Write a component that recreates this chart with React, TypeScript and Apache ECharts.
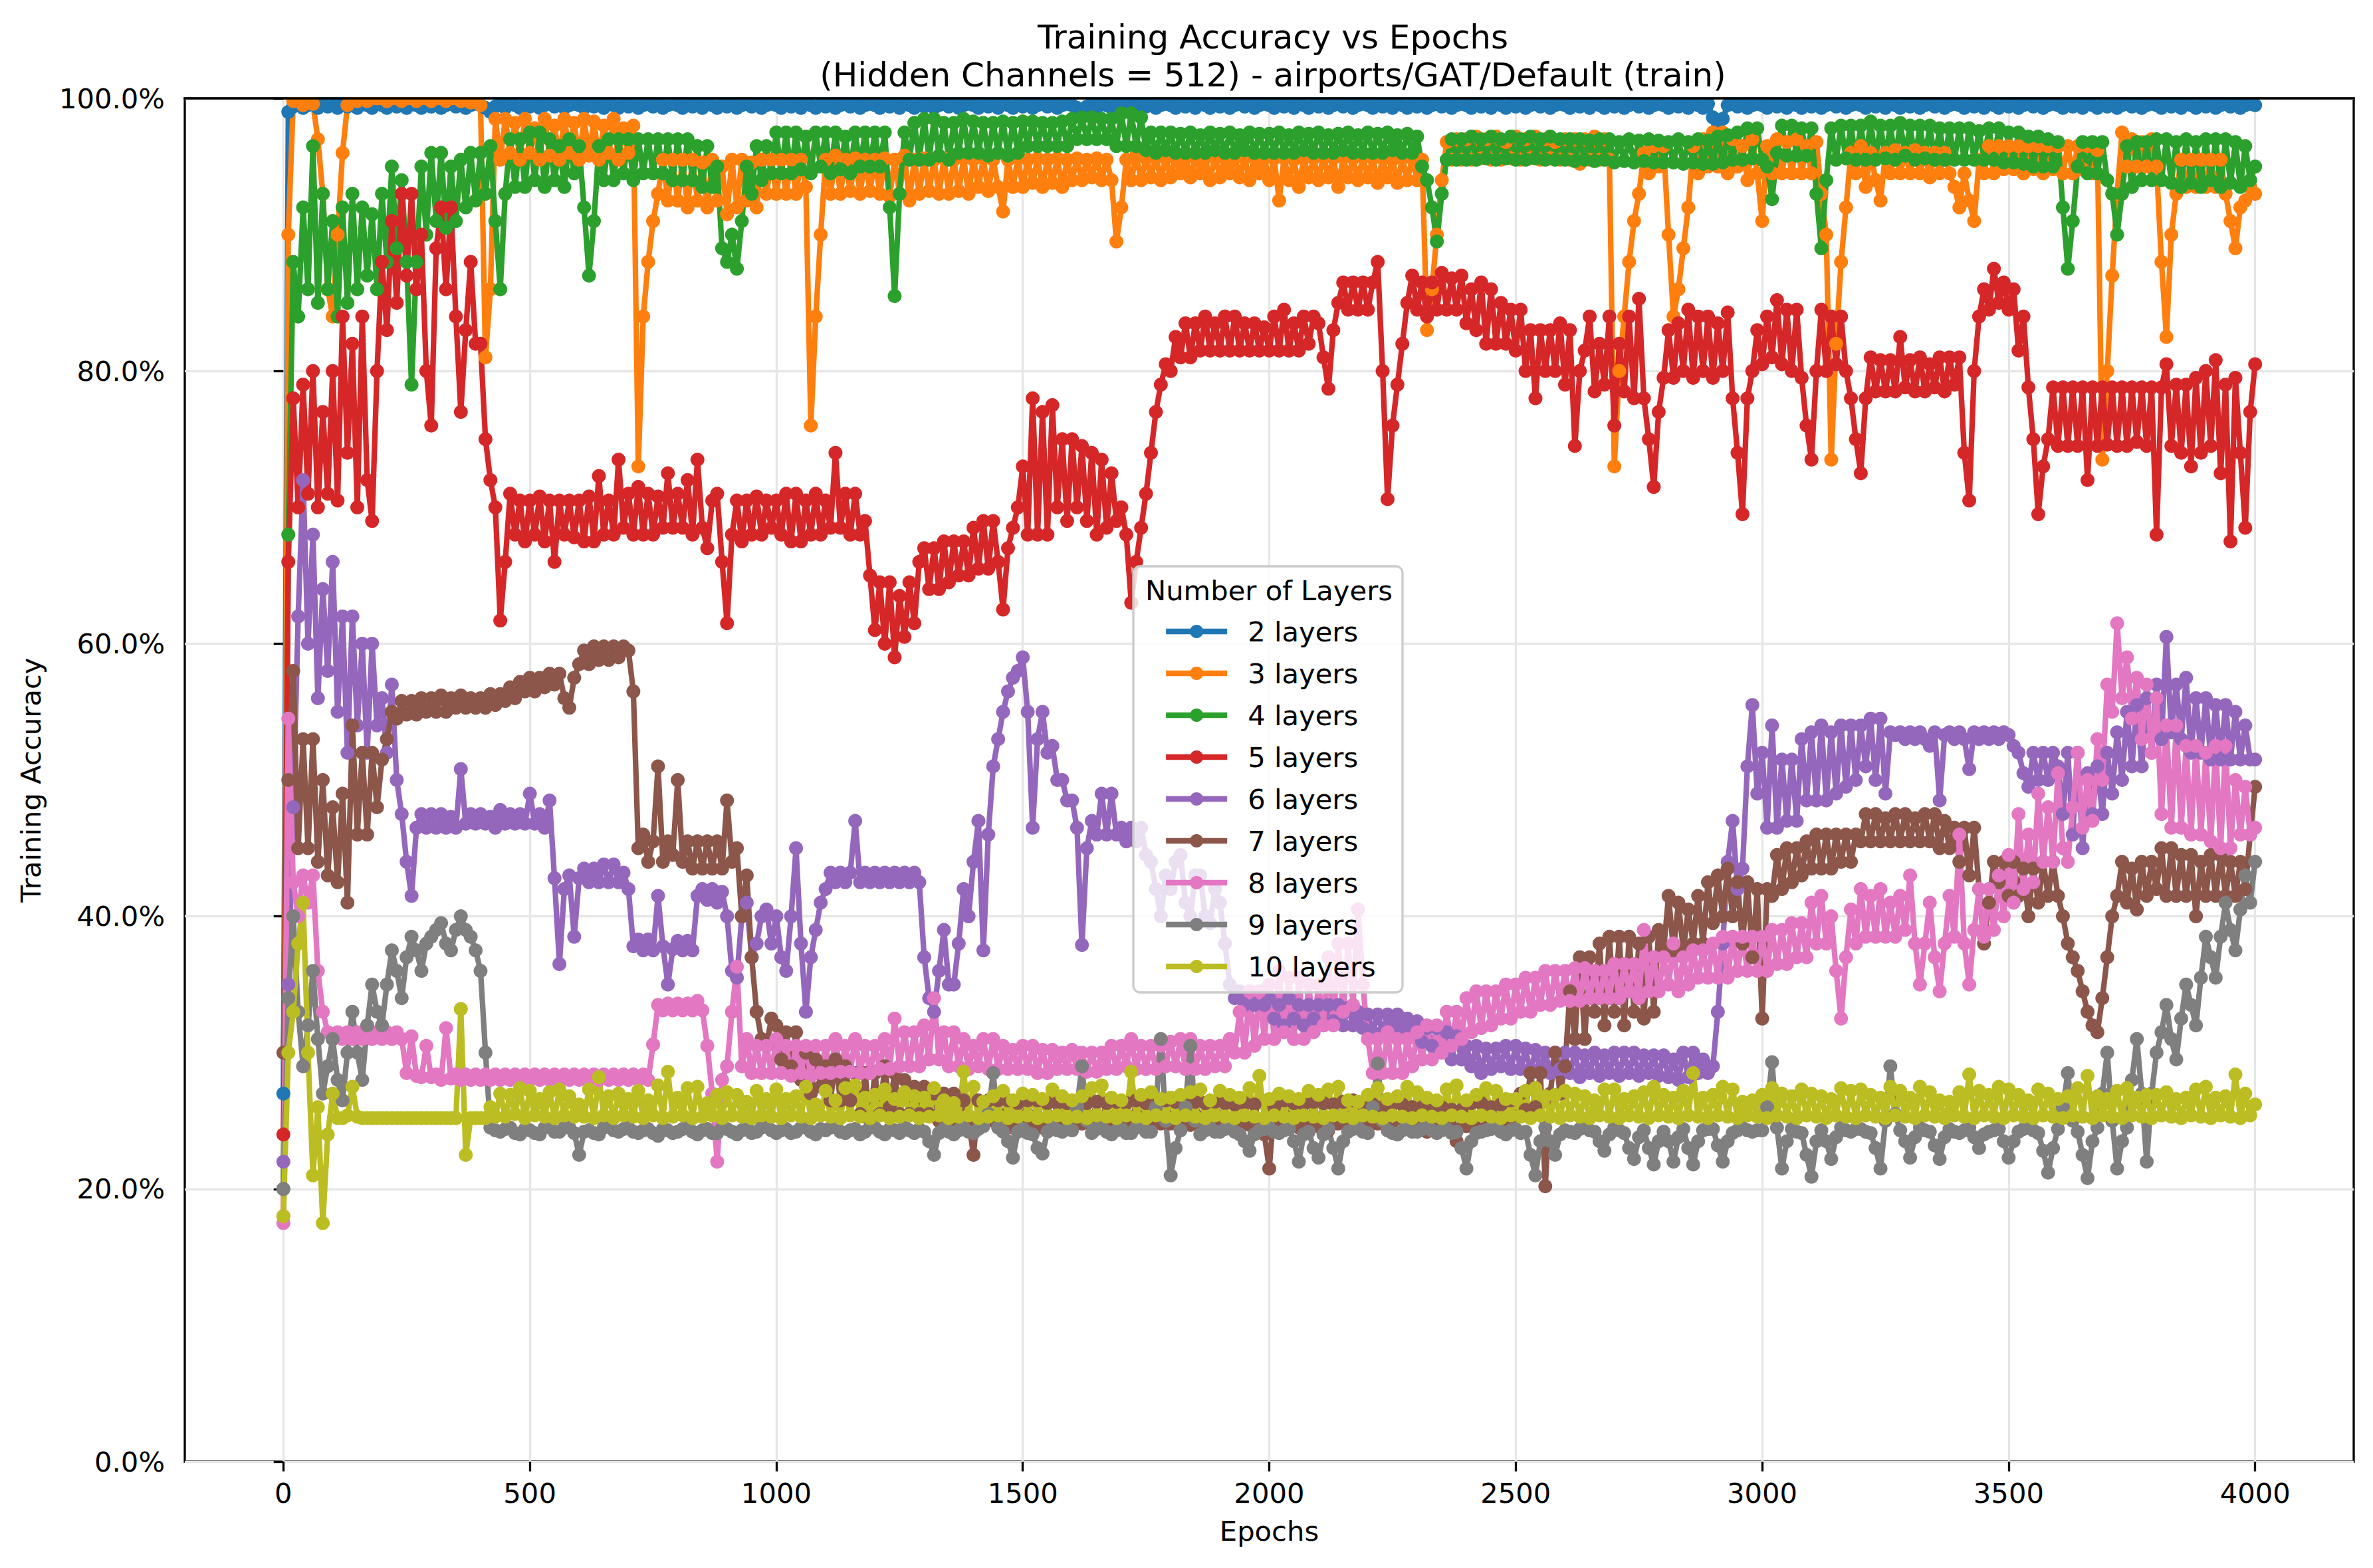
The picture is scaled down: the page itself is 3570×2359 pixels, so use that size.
import React, { useEffect, useRef } from 'react';
import * as echarts from 'echarts';

const FONT = 'DejaVu Sans';
const EPOCH_STEP = 10;
const SERIES_NAMES = ['2 layers', '3 layers', '4 layers', '5 layers', '6 layers', '7 layers', '8 layers', '9 layers', '10 layers'];
const COLORS = ['#1f77b4', '#ff7f0e', '#2ca02c', '#d62728', '#9467bd', '#8c564b', '#e377c2', '#7f7f7f', '#bcbd22'];
const X_TICKS = [0, 500, 1000, 1500, 2000, 2500, 3000, 3500, 4000];
const TITLE = 'Training Accuracy vs Epochs\n(Hidden Channels = 512) - airports/GAT/Default (train)';

// Training accuracy (%) read every 10 epochs (0 ... 4000); one row = 200 epochs
const ACC_2 = [
  27, 99.0, 99.4, 99.7, 99.3, 99.5, 99.7, 99.3, 99.6, 99.4, 99.5, 99.3, 99.7, 99.4, 99.6, 99.3, 99.7, 99.5, 99.3, 99.6,
  99.5, 99.3, 99.7, 99.4, 99.6, 99.3, 99.7, 99.5, 99.3, 99.6, 99.4, 99.7, 99.3, 99.5, 99.6, 99.4, 99.7, 99.3, 99.5, 99.6,
  99.5, 99.3, 99.0, 99.4, 99.6, 99.3, 99.7, 99.5, 99.3, 99.6, 99.4, 99.7, 99.3, 99.5, 99.6, 99.4, 99.7, 99.3, 99.5, 99.6,
  99.5, 99.3, 99.7, 99.4, 99.6, 99.3, 99.7, 99.5, 99.3, 99.6, 99.4, 99.7, 99.3, 99.5, 99.6, 99.4, 99.7, 99.3, 99.5, 99.6,
  99.5, 99.3, 99.7, 99.4, 99.6, 99.3, 99.7, 99.5, 99.3, 99.6, 99.4, 99.7, 99.3, 99.5, 99.6, 99.4, 99.7, 99.3, 99.5, 99.6,
  99.5, 99.3, 99.7, 99.4, 99.6, 99.3, 99.7, 99.5, 99.3, 99.6, 99.4, 99.7, 99.3, 99.5, 99.6, 99.4, 99.7, 99.3, 99.5, 99.6,
  99.5, 99.3, 99.7, 99.4, 99.6, 99.3, 99.7, 99.5, 99.3, 99.6, 99.4, 99.7, 99.3, 99.5, 99.6, 99.4, 99.7, 99.3, 99.5, 99.6,
  99.5, 99.3, 99.7, 99.4, 99.6, 99.3, 99.7, 99.5, 99.3, 99.6, 99.4, 99.7, 99.3, 99.5, 99.6, 99.4, 99.7, 99.3, 99.5, 99.6,
  99.5, 99.3, 99.1, 99.4, 99.6, 99.3, 99.7, 99.5, 99.3, 99.6, 99.4, 99.7, 99.3, 99.5, 99.6, 99.4, 99.7, 99.3, 99.5, 99.6,
  99.5, 99.3, 99.7, 99.4, 99.6, 99.3, 99.7, 99.5, 99.3, 99.6, 99.4, 99.7, 99.3, 99.5, 99.6, 99.4, 99.7, 99.3, 99.5, 99.6,
  99.5, 99.3, 99.7, 99.4, 99.6, 99.3, 99.7, 99.5, 99.3, 99.6, 99.4, 99.7, 99.3, 99.5, 99.6, 99.4, 99.7, 99.3, 99.5, 99.6,
  99.5, 99.3, 99.7, 99.4, 99.6, 99.3, 99.7, 99.5, 99.3, 99.6, 99.4, 99.7, 99.3, 99.5, 99.6, 99.4, 99.7, 99.3, 99.5, 99.6,
  99.5, 99.3, 99.7, 99.4, 99.6, 99.3, 99.7, 99.5, 99.3, 99.6, 99.4, 99.7, 99.3, 99.5, 99.6, 99.4, 99.7, 99.3, 99.5, 99.6,
  99.5, 99.3, 99.7, 99.4, 99.6, 99.3, 99.7, 99.5, 99.3, 99.6, 99.4, 99.7, 99.3, 99.5, 99.6, 99.4, 99.7, 99.3, 99.5, 99.6,
  99.5, 99.3, 99.7, 99.4, 99.6, 99.3, 99.7, 99.5, 99.3, 99.6, 98.6, 98.2, 98.5, 99.5, 99.6, 99.4, 99.7, 99.3, 99.5, 99.6,
  99.5, 99.3, 99.7, 99.4, 99.6, 99.3, 99.7, 99.5, 99.3, 99.6, 99.4, 99.7, 99.3, 99.5, 99.6, 99.4, 99.7, 99.3, 99.5, 99.6,
  99.5, 99.3, 99.7, 99.4, 99.6, 99.3, 99.7, 99.5, 99.3, 99.6, 99.4, 99.7, 99.3, 99.5, 99.6, 99.4, 99.7, 99.3, 99.5, 99.6,
  99.5, 99.3, 99.7, 99.4, 99.6, 99.3, 99.7, 99.5, 99.3, 99.6, 99.4, 99.7, 99.3, 99.5, 99.6, 99.4, 99.7, 99.3, 99.5, 99.6,
  99.5, 99.3, 99.7, 99.4, 99.6, 99.3, 99.7, 99.5, 99.3, 99.6, 99.4, 99.7, 99.3, 99.5, 99.6, 99.4, 99.7, 99.3, 99.5, 99.6,
  99.5, 99.3, 99.7, 99.4, 99.6, 99.3, 99.7, 99.5, 99.3, 99.6, 99.4, 99.7, 99.3, 99.5, 99.6, 99.4, 99.7, 99.3, 99.5, 99.6,
  99.5,
];

const ACC_3 = [
  18, 90, 99.8, 100, 99.5, 100, 99.6, 97, 93, 86, 84, 90, 96, 99.5, 100, 99.8, 100, 99.8, 100, 100,
  100, 99.8, 100, 100, 99.8, 100, 100, 99.8, 100, 100, 99.8, 100, 100, 99.8, 100, 100, 99.8, 100, 99.7, 100,
  99.5, 81, 86, 98.5, 95.5, 98.5, 96, 98.2, 95.5, 98.5, 96, 97.8, 95.5, 98.5, 95.8, 98, 95.5, 98.5, 96, 98.2,
  95.5, 98.5, 95.8, 98.3, 95.5, 98, 96, 98.5, 95.5, 97.8, 96, 98, 73, 84, 88, 91, 93, 95.5, 92.5, 95.5,
  92.5, 95.5, 92, 95.5, 92.5, 95.3, 92, 95.5, 92.5, 95, 91.5, 95.5, 92, 95.5, 92.5, 95.3, 92, 95.5, 93, 95.5,
  93, 95.5, 93, 95.5, 93, 95.5, 93.5, 76, 84, 90, 95.5, 93, 95.8, 93, 95.5, 93.2, 95.6, 93, 95.5, 93.2,
  95.5, 93, 95.6, 92.8, 95.5, 93, 95.8, 92.5, 95.5, 93, 95.6, 93.2, 95.5, 93, 95.6, 93, 95.5, 93.2, 95.6, 93,
  95.5, 93.5, 95.6, 93.2, 95.5, 93.5, 91.7, 95.5, 93.5, 95.6, 93.5, 95.5, 93.8, 95.6, 93.5, 95.5, 93.8, 95.6, 93.5, 95.5,
  94, 95.6, 94, 95.5, 94.2, 95.6, 94, 95.5, 94, 89.5, 92, 95.5, 94, 95.8, 94, 95.6, 94.2, 95.8, 94, 95.6,
  94.2, 95.8, 94.5, 95.6, 94.2, 95.8, 94.5, 95.6, 94, 95.8, 94.2, 95.6, 94.5, 95.8, 94.2, 95.6, 94, 95.8, 94.5, 95.6,
  94, 95.6, 92.5, 95.6, 94, 95.5, 93.5, 95.6, 94.2, 95.6, 94, 95.8, 94.2, 95.6, 93.5, 95.7, 94.2, 95.6, 94, 95.7,
  94.2, 95.6, 93.8, 95.6, 94.2, 95.5, 93.8, 95.6, 94, 95.6, 94, 95.5, 83, 86, 90, 94, 96.8, 95.5, 97, 95.5,
  97, 95.5, 97.2, 95.6, 97, 95.5, 97.2, 95.5, 96.8, 95.6, 97.2, 95.5, 97, 95.6, 97.2, 95.5, 97, 95.6, 96.8, 95.5,
  97, 95.5, 97, 95.2, 97, 95.5, 97.2, 95.5, 97, 95.5, 73, 80, 84, 88, 91, 93, 96, 94.5, 96.5, 95,
  96.5, 90, 84, 86, 89, 92, 96.5, 94.5, 97, 95, 97.5, 95, 97.5, 94.5, 97, 95, 96.5, 94, 97, 94.5,
  91, 96.5, 94.5, 97, 94.5, 96.8, 94.5, 97, 94.5, 96.5, 94.5, 96.8, 93, 90, 73.5, 82, 88, 92, 96, 94.5,
  96.5, 93.5, 96, 94, 92.5, 96, 94.5, 96.2, 94.5, 96, 94.5, 96.2, 94.5, 96, 94.2, 96, 94.5, 96, 94.5, 93.5,
  92, 94.5, 92.5, 91, 95.5, 94.5, 96.5, 94.5, 96.5, 94.8, 96.5, 94.8, 96.5, 94.5, 96.5, 94.8, 96.5, 94.5, 96.5, 94.8,
  96.5, 94.5, 96.5, 94.5, 96.5, 94.8, 96.5, 94.5, 96.2, 73.5, 80, 87, 93, 97.5, 95, 97, 95, 96.8, 95, 97,
  95, 88, 82.5, 90, 93, 95.5, 93.5, 95.5, 93.5, 95.5, 93.5, 95.5, 93.5, 95.5, 93, 91, 89, 92, 92.5, 93.5,
  93,
];

const ACC_4 = [
  20, 68, 88, 84, 92, 86, 96.5, 85, 93, 86, 91, 84, 92, 85, 93, 86, 92, 87, 91.5, 86,
  93, 88, 95, 89, 94, 88, 79, 88, 95, 90, 96, 91, 96, 90.5, 95, 91, 95.5, 92, 96, 92.5,
  96, 93, 96.5, 91, 86, 93, 97, 93.5, 97, 93.5, 97.5, 94, 97.5, 93.5, 97, 94, 96.5, 93.5, 97, 94.5,
  96.5, 92, 87, 91, 96.5, 94, 97, 94, 97, 94.5, 97, 94, 97, 94.5, 97, 94.5, 97, 94.5, 97, 94,
  97, 94, 97, 94, 96.5, 93.5, 96.5, 93.5, 95, 89, 88, 90, 87.5, 91, 95, 93, 96.5, 94, 96.5, 94.5,
  97.5, 94.5, 97.5, 94.5, 97.5, 94.8, 97.2, 94.5, 97.5, 95, 97.5, 94.5, 97.5, 94.8, 97.2, 94.5, 97.5, 95, 97.5, 95,
  97.5, 95, 97.5, 92, 85.5, 93, 97.5, 95.5, 98.2, 95.5, 98.5, 95.5, 98.5, 95.8, 98.2, 95.5, 98.2, 96, 98.5, 96,
  98.3, 96, 98.2, 95.8, 98.2, 96, 98.3, 95.8, 98.2, 96, 98.3, 96.5, 98.3, 96.5, 98.2, 96.5, 98.2, 96.5, 98.3, 96.5,
  98.5, 97, 98.6, 97, 98.6, 97, 98.5, 97, 98.5, 96.5, 98.9, 96.5, 98.9, 96.5, 98.6, 96.2, 97.5, 96, 97.5, 96.2,
  97.5, 96, 97.4, 96, 97.5, 96, 97.3, 96, 97.5, 96.2, 97.4, 96, 97.5, 96, 97.3, 96.2, 97.5, 96, 97.4, 96,
  97.4, 96, 97.5, 96, 97.3, 96, 97.5, 96.2, 97.4, 96, 97.5, 96, 97.3, 96, 97.4, 96.2, 97.5, 96, 97.3, 96,
  97.5, 96, 97.4, 96, 97.5, 96.2, 97.3, 96, 97.4, 96, 97.2, 95, 94, 92, 89.5, 93, 95.5, 97, 95.5, 97,
  95.5, 97.2, 95.5, 97, 95.6, 97.2, 95.5, 97, 95.6, 97.2, 95.5, 97, 95.5, 97.2, 95.6, 97, 95.5, 97.2, 95.5, 97,
  95.5, 97, 95.4, 97, 95.5, 96.9, 95.4, 97, 95.5, 97, 95.3, 96.8, 95.4, 97, 95.3, 96.9, 95.4, 97, 95.3, 96.9,
  95.3, 96.8, 95.3, 97, 95.2, 96.8, 95.3, 97, 95.2, 96.9, 95.2, 97.2, 95.3, 97.3, 95.5, 97.5, 95.5, 97.8, 95.6, 97.8,
  95.5, 95, 92.6, 96, 98, 95.8, 98, 95.8, 97.8, 95.8, 97.8, 93, 89, 94, 97.8, 95.5, 98, 95.6, 98, 95.5,
  98, 95.5, 98.3, 95.5, 98, 95.6, 98, 95.5, 98.2, 95.8, 98, 95.5, 98, 95.6, 98, 95.5, 97.8, 95.5, 97.8, 95.5,
  97.8, 95.5, 97.8, 95.5, 97.6, 95.5, 97.8, 95.5, 97.8, 95.3, 97.5, 95.3, 97.5, 95.2, 97.2, 95, 97.2, 95, 97, 95,
  96.8, 92, 87.5, 91, 95, 96.8, 94.5, 96.8, 94.5, 96.8, 94, 93, 90, 93, 96.5, 93.5, 96.8, 94, 96.8, 94,
  97, 94, 97, 93.8, 96.8, 93.5, 97, 93.8, 96.8, 93.5, 97, 94, 97, 93.5, 97, 93.8, 96.8, 93.5, 96.5, 94,
  95,
];

const ACC_5 = [
  24, 66, 78, 70, 79, 71, 80, 70, 77, 71, 80, 70.5, 84, 74, 82, 70, 84, 72, 69, 80,
  88, 83, 91, 85, 93, 87, 93, 86, 90, 80, 76, 89, 92, 86, 92, 84, 77, 83, 88, 82,
  82, 75, 72, 70, 61.7, 66, 71, 68, 70.5, 67.5, 70.5, 68, 70.8, 67.5, 70.5, 66, 70.5, 68, 70.5, 67.8,
  70.5, 67.5, 70.8, 67.5, 72.3, 68, 70.5, 68, 73.5, 68.5, 71, 68, 71.5, 68, 71, 68, 70.8, 68.5, 72.5, 68.5,
  71, 68.5, 72, 68, 73.5, 68.5, 67, 70.5, 71, 66, 61.5, 68, 70.5, 67.5, 70.5, 68, 70.8, 68, 70.5, 68.5,
  70.5, 68, 71, 67.5, 71, 67.5, 70.5, 68, 71, 68, 70.5, 68.5, 74, 68.5, 71, 68, 71, 68, 69, 65,
  61, 64.5, 60, 64.5, 59, 63.5, 60.5, 64.5, 61.5, 66, 67, 64, 67, 64, 67.5, 64.5, 67.5, 65, 67.5, 65,
  68.5, 65.5, 69, 65.5, 69, 66, 62.5, 67, 68.5, 70, 73, 68, 78, 68, 77, 68, 77.5, 70, 75, 69,
  75, 70, 74.5, 69, 74, 68, 73.5, 68.5, 72.5, 69, 70, 68, 63, 66, 68.5, 71, 74, 77, 79, 80.5,
  80, 82.5, 81, 83.5, 81, 83.5, 81.5, 84, 81.5, 83.5, 81.5, 84, 81.5, 84, 81.5, 83.5, 81.5, 83.5, 81.5, 83.2,
  81.5, 84, 81.5, 84.5, 81.5, 83.5, 81.5, 84, 82, 84, 83.5, 81, 78.7, 83, 85, 86.5, 84.5, 86.5, 84.5, 86.5,
  84.5, 86.5, 88, 80, 70.6, 76, 79, 82, 85, 87, 84.5, 86.5, 84, 86.5, 84.5, 87.2, 84.5, 86.8, 84.5, 87,
  83.5, 86, 83, 86.5, 82, 86, 82, 85, 82, 84.5, 81.5, 84.5, 80, 83, 78, 83, 80, 83, 80, 83.5,
  79, 83, 74.5, 80, 81.5, 84, 78.5, 82, 79, 84, 76, 82, 78.5, 84, 78, 85.3, 78, 75, 71.5, 77,
  79.5, 83, 79.5, 83.5, 80, 84.5, 79.5, 84, 80, 84, 79.5, 83.5, 80, 84.3, 78, 74, 69.5, 78, 80, 83,
  80.5, 84, 81, 85.2, 80.5, 84.5, 80, 84.5, 79.5, 76, 73.5, 80, 84.5, 80, 84, 80.5, 84, 80, 78, 75,
  72.5, 78, 81, 78.5, 80.8, 78.5, 80.8, 78.5, 82.5, 78.8, 80.8, 78.5, 81, 78.5, 80.5, 78.8, 81, 78.5, 81, 79,
  81, 74, 70.5, 80, 84, 86, 84.5, 87.5, 85, 86.5, 84.5, 86, 81.5, 84, 78.8, 75, 69.5, 73, 75, 78.8,
  74.5, 78.8, 74.5, 78.8, 74.5, 78.8, 72, 78.8, 74.5, 78.8, 74.6, 78.8, 74.5, 78.8, 74.5, 78.8, 74.8, 78.8, 74.5, 78.8,
  68, 78.8, 80.5, 74.5, 79, 74, 79, 73, 79.5, 74, 80, 74.5, 80.8, 72.5, 79, 67.5, 79.5, 74, 68.5, 77,
  80.5,
];

const ACC_6 = [
  22, 35, 48, 62, 72, 60, 68, 56, 64, 58, 66, 55, 62, 52, 62, 54, 60, 52, 60, 54,
  56, 52, 57, 50, 47.5, 44, 41.5, 46.5, 47.5, 46.5, 47.5, 46.5, 47.5, 46.5, 47.3, 46.5, 50.8, 46.8, 47.5, 46.8,
  47.5, 46.8, 47.3, 46.5, 47.8, 46.8, 47.5, 46.8, 47.5, 46.8, 49, 46.8, 47.5, 46.5, 48.5, 42.8, 36.5, 42, 43, 38.5,
  42.8, 43.5, 42.5, 43.5, 42.5, 43.8, 42.5, 43.8, 42.5, 43.2, 42, 37.8, 38.3, 37.5, 38.3, 37.5, 41.5, 37.8, 35, 37.6,
  38.2, 37.5, 38.2, 37.5, 41.5, 42, 41.2, 42, 41, 41.8, 40, 36, 35.5, 40, 41, 37, 38, 40, 40.5, 38,
  40, 37, 36, 40, 45, 38, 33, 37, 39, 41, 42, 43.2, 42.5, 43.2, 42.5, 43.2, 47, 42.5, 43.2, 42.5,
  43.2, 42.5, 43.2, 42.5, 43.2, 42.5, 43.2, 42.5, 43.2, 42.5, 37, 34, 33, 36, 39, 35, 35, 38, 42, 40,
  44, 47, 37.5, 46, 51, 53, 55, 56.5, 57.5, 58, 59, 55, 46.5, 53, 55, 52, 52.5, 50, 50, 48.5,
  48.5, 46.5, 37.9, 45, 47, 46, 49, 46, 49, 46, 46.5, 45.5, 46.5, 45.5, 46.5, 44.5, 44, 42, 40, 43,
  42, 44, 44.5, 41, 40, 43, 43, 40, 39.5, 42, 41, 38, 35, 34, 34.5, 33.5, 34.5, 33.5, 34.5, 33.5,
  34, 32.5, 33.5, 32, 34, 32.5, 33.5, 32, 33.5, 32.5, 33.5, 32, 33.5, 32.3, 33.5, 32, 33.3, 32, 33, 31.8,
  32.8, 31.5, 32.8, 31.5, 32.8, 31.8, 32.8, 31.5, 32.5, 31.5, 32.3, 30.8, 31.8, 30.5, 31.8, 30, 31.5, 29.5, 31.2, 29.5,
  30.5, 29, 30.5, 28.5, 30.3, 28.8, 30.3, 29, 30.5, 28.8, 30.5, 28.8, 30.3, 28.5, 30.2, 28.8, 30, 28.5, 30, 28.8,
  30, 28.5, 30, 28.2, 29.8, 28.5, 30, 28.3, 29.8, 28.5, 30, 28.3, 30, 28.5, 30, 28.3, 29.8, 28.5, 29.8, 28.3,
  29.8, 28.2, 29.5, 28, 30, 28.2, 30, 28.5, 29.5, 28.5, 29, 33, 38, 44, 47, 42, 43.5, 51, 55.5, 49,
  52, 46.5, 54, 46.5, 51.5, 47, 51.5, 47, 53, 48.5, 53.5, 48.5, 54, 48.5, 53.5, 49, 54, 49.5, 54, 50,
  54, 51, 54.5, 50, 54.5, 49, 53.5, 53.3, 53.5, 53, 53.5, 53, 53.5, 53, 52.5, 53.5, 48.5, 53.3, 53.5, 53,
  53.5, 53, 50.8, 53.5, 53, 53.5, 53, 53.5, 53, 53.5, 53.3, 52.5, 52, 50.5, 49.5, 52, 50, 52, 50, 52,
  51, 47.5, 52, 46, 52, 45, 50.5, 47.5, 51, 47.5, 52, 49, 53.5, 50, 55, 51, 55.5, 51, 56, 52,
  57, 53, 60.5, 53.5, 57, 53, 57.5, 52, 56, 52, 56, 51.5, 55.5, 51.5, 55.5, 51.5, 55, 51.5, 54, 51.5,
  51.5,
];

const ACC_7 = [
  30, 50, 58, 45, 53, 45, 53, 44, 50, 43, 48, 42.5, 49, 41, 54, 46, 52, 46, 52, 48,
  51.5, 53, 55, 54.5, 55.8, 54.8, 55.8, 54.8, 56, 55, 56, 55, 56.2, 55, 56, 55.3, 56.2, 55.3, 56, 55.3,
  56, 55.3, 56.3, 55.5, 56.3, 55.8, 56.8, 56, 57.2, 56.5, 57.5, 56.5, 57.5, 56.8, 57.8, 57, 57.8, 56, 55.3, 57.5,
  58.5, 59.5, 58.5, 59.8, 58.8, 59.8, 58.8, 59.8, 59, 59.8, 59.5, 56.5, 45, 46, 44, 45.5, 51, 44, 45.5, 44.5,
  50, 44, 45.5, 43.5, 45.5, 43.5, 45.5, 43.5, 45.5, 43.5, 48.5, 44, 45, 40, 43, 37, 33, 31, 30.5, 32.5,
  32, 29.5, 31.5, 29, 31.5, 28, 30, 27, 29.5, 27.5, 29, 26.5, 29.5, 26.5, 29, 26.5, 28.5, 25.5, 28.5, 25,
  28.5, 25.5, 29, 26, 28.5, 25.5, 28, 25.5, 27.5, 25.5, 27.5, 25.5, 27, 25, 27, 25, 27, 25, 26.5, 25,
  22.5, 26.5, 25, 26.5, 25, 26.5, 25, 26.5, 24.5, 26.3, 25, 26.5, 24.8, 26.5, 24.5, 26.3, 24.8, 26.3, 25, 26.3,
  24.8, 26.3, 24.8, 26.3, 24.8, 26.4, 24.8, 26.3, 24.7, 26.4, 24.8, 26.3, 24.6, 26.5, 24.8, 26.3, 24.7, 26.4, 24.8, 26.5,
  24.8, 26.4, 24.8, 26.3, 24.7, 26.4, 24.8, 26.3, 24.6, 26.4, 24.8, 26.3, 24.6, 26.2, 24.8, 26.3, 24.7, 26.2, 24.8, 24,
  21.5, 26, 24.8, 26.5, 24.8, 26.3, 24.5, 26.2, 24.8, 26.4, 24.6, 26.3, 24.3, 26.2, 24.8, 26.4, 24.7, 26.5, 24.8, 26.2,
  24.5, 26.2, 24.8, 26, 24.5, 26.2, 24, 26.2, 24.6, 26, 24.5, 26, 24.2, 26, 24.5, 26, 24.4, 25.8, 23.5, 25.8,
  24.6, 26.3, 24.5, 26.3, 24.5, 26, 24.6, 26.2, 24.8, 26.5, 25.2, 27, 25.8, 28.5, 26, 28.5, 20.2, 27, 30, 27,
  29, 34.5, 31, 37, 31, 37, 33, 38, 32, 38.5, 33, 38.5, 32, 38.5, 33, 38, 32.5, 38.5, 33, 39,
  37.5, 41.5, 37.5, 41, 37.5, 40.5, 38, 41.5, 38, 42.5, 39.5, 43, 40, 43.5, 40, 42.5, 38, 42.5, 37, 42,
  32.5, 42, 41.5, 44.5, 42, 45, 42.5, 45, 43, 45.5, 43.5, 46, 43.5, 46, 43.5, 46, 44, 46, 44, 46,
  45.5, 47.5, 45.5, 47.5, 45.5, 47.2, 45.5, 47.5, 45.5, 47.5, 45.5, 47.2, 45.5, 47.5, 45.5, 47.5, 45, 47, 45, 46.5,
  44, 46.5, 43, 46.5, 42, 38, 41, 44, 42.5, 44, 41.5, 44, 41.5, 43.5, 40, 43.5, 41, 44, 41.5, 44,
  41.5, 40, 38, 37, 36, 34.5, 33, 32, 31.5, 34, 37, 40, 41.5, 44, 41, 43.5, 40.5, 44, 41.5, 44,
  42, 45, 41.5, 45, 41.5, 44.5, 41.5, 44.5, 40, 44, 41.5, 44.5, 41.5, 44.5, 41.5, 44, 41.5, 44, 42, 46,
  49.5,
];

const ACC_8 = [
  17.5, 54.5, 42.5, 40, 43, 41, 43, 36, 33, 31.5, 31, 31.5, 31, 31.5, 31, 31.5, 31, 31.5, 31, 31.5,
  31, 31.5, 31, 31.5, 31, 28.5, 31.2, 28.3, 28.2, 30.5, 28.2, 28.4, 28, 31.8, 28.1, 28.4, 28, 28.4, 28, 28.4,
  28, 28.4, 28, 28.4, 28, 28.4, 28, 28.4, 28, 28.4, 28, 28.4, 28, 28.4, 28, 28.4, 28, 28.4, 28, 28.4,
  28, 28.4, 28, 28.4, 28, 28.4, 28, 28.4, 28, 28.4, 28, 28.4, 28, 28.4, 28, 30.6, 33.5, 33.1, 33.6, 33.1,
  33.6, 33.1, 33.6, 33.1, 33.8, 33.1, 30.5, 27, 22, 28, 29, 33, 36.3, 29, 31, 28.5, 30.5, 28.5, 30.5, 28.5,
  31, 28.5, 30.5, 28.3, 30.5, 28.5, 30.5, 28.3, 30.5, 28.5, 30.5, 28.5, 31, 28.6, 30.5, 28.6, 31, 28.5, 30.5, 28.5,
  30.5, 28.8, 31, 28.8, 32.5, 29, 31.5, 29, 31.5, 29, 32, 29.5, 34, 29.5, 31.5, 29, 31.5, 29, 31, 28.8,
  30.5, 29, 31, 28.8, 31, 28.8, 30.5, 28.8, 30.2, 28.8, 30.5, 28.8, 30.5, 28.5, 30.2, 28.5, 30.2, 28.8, 30, 28.8,
  30.2, 28.8, 30, 28.6, 30, 28.6, 30, 28.8, 30.5, 28.8, 30.5, 29, 31, 28.8, 30.5, 28.8, 30.5, 28.8, 30.5, 29,
  30.8, 29, 31, 28.8, 31, 28.8, 30.5, 28.8, 30.5, 29, 30.5, 29, 31, 30, 33, 30, 34.5, 30.5, 34.5, 31,
  35, 31, 36, 31.5, 35.5, 31, 35.5, 31, 35, 31.5, 35, 32, 37, 32, 38, 33, 38, 33.5, 40.5, 35,
  31, 28.5, 31, 28.5, 31.5, 28.5, 31, 28.5, 31, 29, 31.5, 29.5, 32, 29.5, 32, 30, 33, 30.5, 33, 31,
  34, 31.5, 34.5, 31.8, 34.5, 32, 34.5, 32.5, 35, 32.5, 35, 33, 35.5, 33, 35.5, 33.5, 36, 33.5, 36, 33.8,
  36, 33.8, 36.2, 33.8, 36.2, 34, 36, 34, 36, 34, 36.5, 34, 36.5, 34.5, 36.5, 34, 39, 34.5, 37, 34.5,
  37, 35, 38, 34.5, 37, 35, 37.5, 35.5, 37.5, 35.5, 38, 35.5, 38.5, 35.5, 38.5, 36, 38.5, 36, 38.5, 36,
  38.5, 36, 39, 36.5, 39, 36.5, 39.5, 37, 39.5, 37, 41, 38, 41.5, 38, 40, 36, 32.5, 37, 40.5, 38,
  42, 38.5, 41.5, 38.5, 42, 38.5, 41, 38.5, 41.5, 39, 43, 38, 35, 38, 41, 37, 34.5, 38, 41.5, 38.5,
  46, 38, 35, 39, 42, 38.5, 42, 39, 43, 40, 44.5, 41, 47.5, 42, 46, 42.5, 49, 44, 48, 44,
  50.5, 45, 44, 48, 52, 46.5, 50, 47, 53, 50, 57, 55, 61.5, 56, 59, 54.5, 57.5, 53, 57, 52,
  56, 47.5, 54, 46.5, 54, 46.5, 52.5, 46, 52.5, 46, 52, 45.5, 52.5, 45, 52.5, 45, 50, 46, 49.5, 46,
  46.5,
];

const ACC_9 = [
  20, 34, 40, 33, 29, 32, 36, 31, 27, 29, 31, 28, 26.5, 30, 33, 30, 28, 32, 35, 33,
  32, 35, 37.5, 36, 34, 37, 38.5, 37.5, 36, 38, 38.5, 39, 39.5, 38, 37.5, 39, 40, 39, 38.5, 37.5,
  36, 30, 24.5, 24.3, 24.2, 24.4, 24.5, 24.1, 24, 24.4, 24.3, 24.1, 24, 24.5, 24.6, 24.2, 24.2, 24.5, 24.5, 24.1,
  22.5, 24.2, 24.3, 24.1, 24, 24.5, 24.6, 24.3, 24.2, 24.4, 24.5, 24.2, 24.1, 24.3, 24.4, 24.1, 23.9, 24.4, 24.3, 24.1,
  24.2, 24.4, 24.6, 24.2, 24, 24.3, 24.4, 24.1, 24.1, 24.5, 24.4, 24.2, 24, 24.3, 24.5, 24.1, 24.2, 24.5, 24.6, 24.3,
  24.1, 24.3, 24.4, 24.1, 24.2, 24.5, 24.5, 24.2, 24, 24.4, 24.3, 24.5, 24.6, 24.2, 24.1, 24.3, 24.4, 24, 24.2, 24.5,
  24.5, 24.2, 24, 24.4, 24.3, 24.1, 24.6, 24.3, 24.1, 24.4, 24.2, 23.5, 22.5, 24.1, 24.4, 24.2, 24, 24.3, 24.5, 24.2,
  24.1, 24.4, 24.6, 25.5, 28.5, 24.5, 24.2, 23.5, 22.3, 24.2, 24.4, 24.1, 24, 23, 22.6, 24.2, 24.5, 24.3, 24.2, 24.4,
  24.3, 26, 29, 25, 24.1, 24.4, 24.5, 24.2, 24, 24.3, 24.4, 24.1, 24.1, 24.5, 24.6, 24.2, 24.2, 26, 31, 25,
  21, 23, 24.3, 26, 30.5, 25, 24, 24.3, 24.5, 24.2, 24.2, 24.4, 24.5, 24.2, 24, 23.5, 22.8, 24, 24.3, 24.4,
  24.5, 24.2, 24.1, 24.3, 24.4, 23.5, 22, 24, 24.2, 23, 22.3, 24, 24.4, 23, 21.5, 23.5, 24.2, 24.4, 24.5, 24.2,
  24.1, 26, 29.2, 25, 24.3, 24.1, 24, 24.3, 24.4, 24.2, 24.2, 24.4, 24.6, 24.3, 24.1, 24.3, 24.4, 24.1, 24.2, 23,
  21.5, 23.5, 24.1, 24.2, 24.3, 24.4, 24.6, 24.2, 24, 24.3, 24.4, 24.1, 24.2, 22.5, 21, 23.5, 24.5, 23.5, 22.5, 24,
  24.3, 24.2, 24.1, 24.4, 24.6, 24.3, 24.2, 23.5, 22.8, 24, 24.5, 24.3, 24.1, 23, 22.2, 23.8, 24.3, 23, 21.8, 23.5,
  24.2, 23.5, 22, 23.8, 24.4, 23, 21.8, 23.5, 24.3, 24.4, 24.4, 23.2, 22, 23.5, 24.1, 24.3, 24.5, 24.3, 24.2, 24.3,
  24.3, 26, 29.3, 24.5, 21.5, 23.5, 24.4, 24.2, 24.1, 22.5, 20.9, 23.5, 24.3, 23.5, 22.2, 23.8, 24.5, 24.3, 24.2, 24.4,
  24.4, 24.2, 24.1, 23, 21.5, 25, 29, 25.5, 24.3, 23.5, 22.3, 23.8, 24.5, 24.3, 24.2, 23.2, 22.2, 23.8, 24.4, 24.2,
  24.1, 24.3, 24.5, 23.8, 23, 24, 24.2, 24.3, 24.4, 23.5, 22.3, 23.5, 24.2, 24.4, 24.5, 24.3, 24.1, 22.8, 21.2, 23,
  24.4, 26, 28.5, 25, 24.2, 22.5, 20.8, 23.5, 24.5, 27, 30, 25, 21.5, 23.5, 24.5, 28, 31, 27, 22, 27,
  30, 31.5, 33.5, 31, 29.5, 32.5, 35, 33.5, 32, 35.5, 38.5, 37, 35.5, 38.5, 41, 39, 37.5, 40.5, 43, 41,
  44,
];

const ACC_10 = [
  18, 30, 33, 38, 41, 30, 21, 26, 17.5, 24, 27, 25.2, 25.2, 25.4, 27.5, 25.3, 25.2, 25.2, 25.2, 25.2,
  25.2, 25.2, 25.2, 25.2, 25.2, 25.2, 25.2, 25.2, 25.2, 25.2, 25.2, 25.2, 25.2, 25.2, 25.2, 25.2, 33.2, 22.5, 25.2, 25.2,
  25.2, 25.2, 26, 25.3, 27, 25.3, 26.9, 25.5, 27.4, 25.2, 27.2, 25.4, 26.6, 25.3, 27.1, 25.2, 27.3, 25.4, 26.8, 25.3,
  26.2, 25.3, 27.3, 25.2, 28.2, 25.4, 26.8, 25.2, 27.0, 25.4, 26.6, 25.3, 27.2, 25.2, 26.5, 25.4, 27.6, 25.2, 28.6, 25.3,
  26.7, 25.4, 27.4, 25.2, 27.5, 25.3, 26.3, 25.4, 26.9, 25.2, 27.1, 25.4, 26.9, 25.3, 26.4, 25.2, 27.2, 25.4, 26.6, 25.3,
  27.3, 25.2, 26.6, 25.4, 26.8, 25.3, 27.5, 25.2, 26.2, 25.4, 27.2, 25.3, 26.5, 25.2, 27.4, 25.4, 27.6, 25.3, 26.7, 25.2,
  26.9, 25.4, 27.3, 25.2, 26.6, 25.3, 27.1, 25.4, 26.8, 25.2, 26.7, 25.3, 27.4, 25.4, 26.5, 25.2, 26.3, 25.3, 28.6, 25.4,
  27.5, 25.2, 26.4, 25.3, 26.8, 25.4, 27.2, 25.2, 26.5, 25.3, 27.0, 25.4, 26.9, 25.2, 26.6, 25.3, 27.3, 25.4, 26.8, 25.2,
  26.5, 25.3, 26.8, 25.2, 27.4, 25.4, 27.6, 25.3, 26.7, 25.2, 26.5, 25.4, 28.6, 25.3, 26.9, 25.2, 27.1, 25.4, 26.6, 25.3,
  26.7, 25.2, 26.9, 25.4, 27.1, 25.3, 27.3, 25.2, 26.5, 25.4, 27.2, 25.3, 26.9, 25.2, 26.7, 25.4, 27.4, 25.3, 28.3, 25.2,
  26.6, 25.4, 27.0, 25.3, 26.8, 25.2, 26.6, 25.4, 27.2, 25.3, 26.9, 25.2, 27.3, 25.4, 27.5, 25.3, 26.5, 25.2, 26.4, 25.4,
  26.9, 25.3, 27.4, 25.2, 26.6, 25.4, 26.8, 25.3, 27.5, 25.2, 27.1, 25.4, 26.7, 25.3, 26.5, 25.2, 27.3, 25.4, 27.6, 25.3,
  26.5, 25.2, 26.9, 25.4, 27.4, 25.3, 27.2, 25.2, 26.6, 25.4, 26.6, 25.3, 27.2, 25.2, 27.4, 25.4, 26.8, 25.3, 26.9, 25.2,
  27.2, 25.4, 27.0, 25.3, 26.8, 25.2, 26.5, 25.4, 27.3, 25.3, 27.3, 25.2, 26.6, 25.4, 26.8, 25.3, 27.1, 25.2, 27.5, 25.4,
  26.9, 25.3, 26.7, 25.2, 27.2, 25.4, 28.5, 25.3, 26.7, 25.2, 26.9, 25.4, 27.5, 25.3, 27.3, 25.2, 26.4, 25.4, 26.5, 25.3,
  26.9, 25.2, 27.4, 25.4, 27.0, 25.3, 26.8, 25.2, 27.3, 25.4, 27.0, 25.3, 26.8, 25.2, 26.6, 25.4, 27.4, 25.3, 27.2, 25.2,
  27.3, 25.4, 26.9, 25.3, 26.7, 25.2, 27.5, 25.4, 27.2, 25.3, 26.7, 25.2, 27.5, 25.4, 27.1, 25.3, 26.5, 25.2, 26.4, 25.4,
  27.1, 25.3, 28.4, 25.2, 27.2, 25.4, 26.9, 25.3, 27.5, 25.2, 27.3, 25.4, 26.9, 25.3, 26.5, 25.2, 27.3, 25.4, 27.0, 25.3,
  26.6, 25.2, 26.8, 25.4, 27.4, 25.3, 28.3, 25.2, 26.8, 25.4, 26.6, 25.3, 27.2, 25.2, 27.4, 25.4, 26.7, 25.3, 26.9, 25.2,
  26.9, 25.4, 27.1, 25.3, 26.6, 25.2, 26.7, 25.4, 27.3, 25.3, 27.5, 25.2, 26.7, 25.4, 26.8, 25.3, 28.4, 25.2, 27.0, 25.4,
  26.2,
];

const ALL_SERIES = [ACC_2, ACC_3, ACC_4, ACC_5, ACC_6, ACC_7, ACC_8, ACC_9, ACC_10];

function buildOption() {
  const axisText = { fontSize: 41.7, color: '#000', fontFamily: FONT };
  return {
    animation: false,
    backgroundColor: '#ffffff',
    textStyle: { fontFamily: FONT },
    title: {
      text: TITLE,
      left: 1910,
      top: 22,
      textAlign: 'center',
      z: 20,
      textStyle: { fontSize: 50, lineHeight: 57, fontWeight: 'normal', color: '#000', fontFamily: FONT },
    },
    grid: {
      left: 278,
      right: 29,
      top: 148,
      bottom: 160,
      show: true,
      borderColor: '#000',
      borderWidth: 3.3,
      backgroundColor: 'transparent',
    },
    xAxis: {
      type: 'value',
      min: -200,
      max: 4200,
      splitNumber: 9,
      name: 'Epochs',
      nameLocation: 'middle',
      nameGap: 83,
      nameTextStyle: axisText,
      axisLine: { show: false },
      axisTick: { show: true, length: 14.6, customValues: X_TICKS, lineStyle: { color: '#000', width: 3.3 } },
      axisLabel: { ...axisText, margin: 26, customValues: X_TICKS, formatter: (v: number) => String(v) },
      splitLine: { show: true, lineStyle: { color: '#e6e6e6', width: 3.3 } },
    },
    yAxis: {
      type: 'value',
      min: 0,
      max: 100,
      interval: 20,
      name: 'Training Accuracy',
      nameLocation: 'middle',
      nameGap: 211,
      nameTextStyle: axisText,
      axisLine: { show: false },
      axisTick: { show: true, length: 14.6, lineStyle: { color: '#000', width: 3.3 } },
      axisLabel: { ...axisText, margin: 30, formatter: (v: number) => v.toFixed(1) + '%' },
      splitLine: { show: true, lineStyle: { color: '#e6e6e6', width: 3.3 } },
    },
    legend: {
      data: SERIES_NAMES,
      orient: 'vertical',
      left: 1750,
      top: 929,
      itemWidth: 92,
      itemHeight: 25,
      itemGap: 21,
      padding: 0,
      selectedMode: false,
      z: 6,
      lineStyle: { width: 8.3 },
      textStyle: { fontSize: 41.7, lineHeight: 42, color: '#000', fontFamily: FONT, padding: [0, 0, 0, 26] },
    },
    graphic: [
      {
        type: 'rect',
        z: 10,
        silent: true,
        shape: { x: 270, y: 136, width: 3290, height: 10.3 },
        style: { fill: '#ffffff' },
      },
      {
        type: 'line',
        z: 11,
        silent: true,
        shape: { x1: 276.35, y1: 148, x2: 3542.65, y2: 148 },
        style: { stroke: '#000', lineWidth: 3.3 },
      },
      {
        type: 'rect',
        z: 5,
        silent: true,
        shape: { x: 1705, y: 852, width: 405, height: 641, r: 10 },
        style: { fill: 'rgba(255,255,255,0.8)', stroke: '#cccccc', lineWidth: 3.3 },
      },
      {
        type: 'text',
        z: 7,
        silent: true,
        x: 1909,
        y: 888,
        style: {
          text: 'Number of Layers',
          fontSize: 41.7,
          fontFamily: FONT,
          fill: '#000',
          textAlign: 'center',
          textVerticalAlign: 'middle',
        },
      },
    ],
    series: ALL_SERIES.map((vals, k) => ({
      name: SERIES_NAMES[k],
      type: 'line',
      data: vals.map((v, i) => [i * EPOCH_STEP, v]),
      symbol: 'circle',
      symbolSize: 21,
      showSymbol: true,
      clip: true,
      silent: true,
      z: 2,
      lineStyle: { width: 8.3, color: COLORS[k] },
      itemStyle: { color: COLORS[k] },
      emphasis: { disabled: true },
    })),
  };
}

export default function App() {
  const ref = useRef<HTMLDivElement>(null);
  useEffect(() => {
    document.body.style.margin = '0';
    document.body.style.overflow = 'hidden';
    const chart = echarts.init(ref.current as HTMLDivElement, null, { renderer: 'svg' });
    chart.setOption(buildOption() as any);
    return () => chart.dispose();
  }, []);
  return <div ref={ref} style={{ width: 3570, height: 2359 }} />;
}
